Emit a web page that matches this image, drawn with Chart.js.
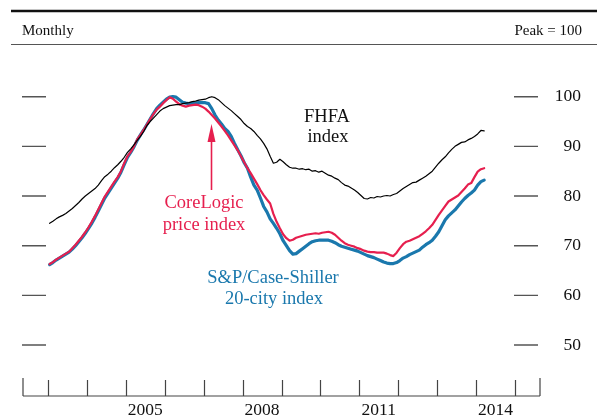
<!DOCTYPE html>
<html>
<head>
<meta charset="utf-8">
<script src="https://cdn.jsdelivr.net/npm/chart.js@4/dist/chart.umd.min.js"></script>
<style>
  html, body { margin: 0; padding: 0; background: #fff; }
  #wrap { position: relative; width: 597px; height: 419px; }
</style>
</head>
<body>
<div id="wrap"><canvas id="c" width="597" height="419"></canvas></div>
<script>
// ---- data (monthly, Jan 2003 .. Mar 2014; peak = 100) ----
const startYear = 2003;
const fhfa = [
  74.5,74.9,75.4,75.8,76.1,76.5,77.0,77.5,78.1,78.7,79.4,80.0,
  80.5,81.0,81.5,82.2,83.1,83.9,84.4,85.0,85.7,86.3,87.0,87.8,
  88.8,89.5,90.3,91.2,92.0,93.0,94.2,95.0,95.7,96.4,97.1,97.6,
  97.9,98.2,98.3,98.4,98.4,98.6,98.7,98.8,99.0,99.1,99.3,99.4,
  99.5,99.8,100.0,99.8,99.4,98.8,98.2,97.7,97.2,96.6,96.0,95.4,
  94.6,94.0,93.6,93.0,92.2,91.5,90.6,89.5,88.0,86.6,86.8,87.4,
  86.9,86.3,85.8,85.6,85.6,85.4,85.5,85.3,85.4,85.0,85.1,84.8,
  85.0,84.6,84.2,84.0,83.6,83.3,82.7,82.2,82.0,81.6,81.2,80.7,
  80.1,79.5,79.4,79.7,79.6,79.9,79.8,80.0,80.1,80.0,80.3,80.5,
  81.0,81.5,81.9,82.3,82.7,82.8,83.2,83.6,84.0,84.5,85.0,85.8,
  86.6,87.3,87.9,88.7,89.4,90.0,90.4,90.8,90.9,91.3,91.6,92.0,
  92.5,93.2,93.1
];
const coreLogic = [
  66.3,66.7,67.2,67.6,68.0,68.4,68.8,69.5,70.2,71.0,71.8,72.7,
  73.7,74.8,76.0,77.3,78.6,79.9,80.9,81.9,82.9,83.8,85.0,86.6,
  88.0,88.9,90.0,91.4,92.3,93.3,94.4,95.5,96.5,97.4,98.0,98.7,
  99.3,99.9,99.6,99.0,98.5,98.2,98.0,98.2,98.3,98.4,98.3,98.0,
  97.6,97.0,96.3,95.6,94.8,94.0,93.1,92.2,91.2,90.2,89.2,88.0,
  86.8,85.6,84.6,83.5,82.4,81.2,80.2,79.3,78.5,76.4,74.8,73.5,
  72.3,71.5,71.0,71.2,71.6,71.8,72.0,72.2,72.3,72.4,72.5,72.4,
  72.6,72.7,72.8,72.6,72.2,71.6,71.0,70.5,70.2,70.0,69.8,69.5,
  69.3,69.0,68.8,68.7,68.7,68.6,68.6,68.6,68.4,68.1,67.9,68.6,
  69.5,70.3,70.8,71.0,71.3,71.6,71.9,72.4,72.9,73.5,74.2,75.2,
  76.2,77.1,78.0,78.9,79.3,79.7,80.1,80.8,81.5,82.3,82.6,83.8,
  84.9,85.4,85.6
];
const caseShiller = [
  66.2,66.6,67.1,67.5,67.9,68.3,68.7,69.3,70.0,70.8,71.6,72.5,
  73.5,74.5,75.7,77.0,78.3,79.6,80.6,81.6,82.6,83.6,84.8,86.3,
  87.8,88.8,89.9,91.2,92.3,93.3,94.4,95.5,96.6,97.6,98.3,98.9,
  99.5,99.9,100.0,99.9,99.4,98.9,98.7,98.6,98.7,98.7,98.8,98.8,
  98.8,98.6,97.6,96.3,95.3,94.5,93.6,93.0,92.0,90.6,89.3,88.1,
  86.7,85.6,83.8,82.2,81.2,79.6,77.9,76.8,75.4,74.5,73.5,72.4,
  71.0,70.0,69.0,68.3,68.4,68.9,69.4,69.9,70.4,70.8,71.0,71.1,
  71.1,71.1,71.1,70.9,70.6,70.2,69.9,69.7,69.5,69.3,69.1,68.9,
  68.6,68.3,68.0,67.8,67.6,67.3,67.0,66.7,66.5,66.4,66.4,66.6,
  67.0,67.5,67.8,68.2,68.5,68.8,69.1,69.7,70.2,70.6,71.1,71.9,
  72.8,74.0,75.2,76.0,76.6,77.2,78.0,78.8,79.5,80.1,80.6,81.2,
  82.2,82.9,83.2
];
const yTickValues = [50, 60, 70, 80, 90, 100];
const xTickYears = [2003, 2004, 2005, 2006, 2007, 2008, 2009, 2010, 2011, 2012, 2013, 2014, 2015];
const xLabelYears = [2005, 2008, 2011, 2014];

const RED = '#e61f4e';
const BLUE = '#1a78ad';
const SERIF = '"Liberation Serif", "Times New Roman", serif';

function toPoints(arr) {
  return arr.map((v, i) => ({ x: startYear + (i + 0.5) / 12, y: v }));
}

const decor = {
  id: 'decor',
  beforeDatasetsDraw(chart) {
    const ctx = chart.ctx;
    const xs = chart.scales.x, ys = chart.scales.y;
    const ca = chart.chartArea;
    ctx.save();
    // header rules
    ctx.strokeStyle = '#111';
    ctx.lineWidth = 2.5;
    ctx.beginPath(); ctx.moveTo(11, 11); ctx.lineTo(597, 11); ctx.stroke();
    ctx.strokeStyle = '#555';
    ctx.lineWidth = 1;
    ctx.beginPath(); ctx.moveTo(11, 44.5); ctx.lineTo(597, 44.5); ctx.stroke();
    ctx.fillStyle = '#111';
    ctx.font = '15px ' + SERIF;
    ctx.textBaseline = 'middle';
    ctx.textAlign = 'left';
    ctx.fillText('Monthly', 22, 31);
    ctx.textAlign = 'right';
    ctx.fillText('Peak = 100', 582, 31);

    // y ticks (both sides) and labels
    ctx.strokeStyle = '#555';
    ctx.lineWidth = 1.4;
    ctx.font = '17.5px ' + SERIF;
    ctx.textAlign = 'right';
    yTickValues.forEach(v => {
      const py = ys.getPixelForValue(v);
      ctx.beginPath();
      ctx.moveTo(22, py); ctx.lineTo(46, py);
      ctx.moveTo(514, py); ctx.lineTo(538, py);
      ctx.stroke();
      ctx.fillText(String(v), 581, py);
    });

    // x axis
    const by = ca.bottom;
    ctx.strokeStyle = '#444';
    ctx.lineWidth = 1.2;
    ctx.beginPath(); ctx.moveTo(ca.left, by); ctx.lineTo(ca.right, by); ctx.stroke();
    ctx.beginPath();
    [ca.left, ca.right].forEach(px => { ctx.moveTo(px, by); ctx.lineTo(px, by - 18); });
    xTickYears.forEach(yr => {
      const px = Math.round(xs.getPixelForValue(yr)) + 0.5;
      ctx.moveTo(px, by); ctx.lineTo(px, by - 16);
    });
    ctx.stroke();
    ctx.textAlign = 'center';
    ctx.textBaseline = 'middle';
    ctx.fillStyle = '#111';
    xLabelYears.forEach(yr => {
      ctx.fillText(String(yr), xs.getPixelForValue(yr + 0.5), by + 14);
    });
    ctx.restore();
  },
  afterDatasetsDraw(chart) {
    const ctx = chart.ctx;
    ctx.save();
    ctx.textAlign = 'center';
    ctx.textBaseline = 'middle';
    ctx.font = '18.5px ' + SERIF;
    ctx.fillStyle = '#111';
    ctx.fillText('FHFA', 327, 117);
    ctx.fillText('index', 328, 137);
    ctx.fillStyle = RED;
    ctx.fillText('CoreLogic', 204, 203);
    ctx.fillText('price index', 204, 225);
    ctx.fillStyle = BLUE;
    ctx.fillText('S&P/Case-Shiller', 273, 278);
    ctx.fillText('20-city index', 274, 299);
    // arrow
    ctx.strokeStyle = RED;
    ctx.fillStyle = RED;
    ctx.lineWidth = 1.6;
    ctx.beginPath(); ctx.moveTo(211.5, 190); ctx.lineTo(211.5, 138); ctx.stroke();
    ctx.beginPath();
    ctx.moveTo(211.5, 124); ctx.lineTo(207.5, 142); ctx.lineTo(215.5, 142); ctx.closePath();
    ctx.fill();
    ctx.restore();
  }
};

new Chart(document.getElementById('c'), {
  type: 'line',
  data: {
    datasets: [
      { label: 'FHFA index', data: toPoints(fhfa), borderColor: '#000', borderWidth: 1.2 },
      { label: 'CoreLogic price index', data: toPoints(coreLogic), borderColor: RED, borderWidth: 2.2 },
      { label: 'S&P/Case-Shiller 20-city index', data: toPoints(caseShiller), borderColor: BLUE, borderWidth: 3.2 }
    ]
  },
  options: {
    responsive: false,
    animation: false,
    devicePixelRatio: 1,
    layout: { padding: { left: 23, right: 57, top: 60, bottom: 23 } },
    elements: { point: { radius: 0 }, line: { tension: 0, borderJoinStyle: 'round', borderCapStyle: 'round' } },
    plugins: { legend: { display: false }, tooltip: { enabled: false } },
    scales: {
      x: { type: 'linear', display: false, min: 2002.357, max: 2015.643 },
      y: { type: 'linear', display: false, min: 39.73, max: 107.39 }
    }
  },
  plugins: [decor]
});
</script>
</body>
</html>
